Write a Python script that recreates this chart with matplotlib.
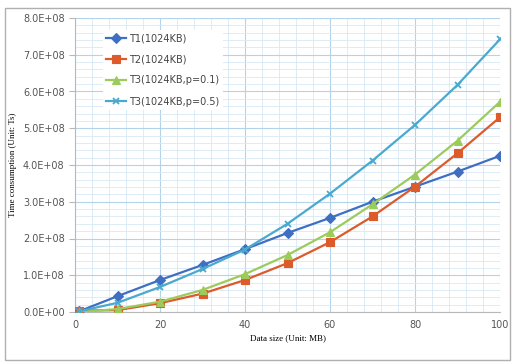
import matplotlib
matplotlib.use("Agg")
import matplotlib.pyplot as plt
from matplotlib.patches import Rectangle
from matplotlib.ticker import MultipleLocator, FuncFormatter

x = [1, 10, 20, 30, 40, 50, 60, 70, 80, 90, 100]
t1 = [0.02, 0.43, 0.87, 1.28, 1.71, 2.15, 2.56, 3.00, 3.41, 3.82, 4.25]
t2 = [0.04, 0.05, 0.24, 0.50, 0.87, 1.33, 1.90, 2.60, 3.41, 4.32, 5.30]
t3a = [0.00, 0.08, 0.28, 0.60, 1.03, 1.55, 2.17, 2.93, 3.74, 4.66, 5.72]
t3b = [0.02, 0.25, 0.68, 1.17, 1.70, 2.40, 3.22, 4.12, 5.09, 6.18, 7.42]
labels = ["T1(1024KB)", "T2(1024KB)", "T3(1024KB,p=0.1)", "T3(1024KB,p=0.5)"]
colors = ["#3e6fc2", "#dd5a2b", "#9ccb5c", "#4aa9cf"]
markers = ["D", "s", "^", "x"]
msizes = [5, 6, 6, 5]

fig = plt.figure(figsize=(5.15, 3.62), dpi=100)
fig.patches.append(Rectangle((5/515, 2/362), 505/515, 352/362, transform=fig.transFigure,
                             fill=False, edgecolor="#b0b0b0", lw=1.0))
ax = fig.add_axes([75/515, 1-312/362, 425/515, 294/362])

for s, lab, c, m, ms in zip([t1, t2, t3a, t3b], labels, colors, markers, msizes):
    ax.plot(x, [v*1e8 for v in s], color=c, marker=m, markersize=ms, lw=1.6,
            label=lab, markeredgewidth=1.3 if m == "x" else 0.8, zorder=3)

ax.set_xlim(0, 100)
ax.set_ylim(0, 8e8)
ax.xaxis.set_major_locator(MultipleLocator(20))
ax.xaxis.set_minor_locator(MultipleLocator(4))
ax.yaxis.set_major_locator(MultipleLocator(1e8))
ax.yaxis.set_minor_locator(MultipleLocator(0.2e8))
ax.yaxis.set_major_formatter(FuncFormatter(lambda v, p: "%.1fE+%02d" % (v/1e8, 8) if v > 0 else "0.0E+00"))
ax.grid(True, which="major", color="#b3d3ea", lw=0.8)
ax.grid(True, which="minor", color="#d8e9f5", lw=0.6)
ax.set_axisbelow(True)
for sp in ["top", "right"]:
    ax.spines[sp].set_visible(False)
for sp in ["left", "bottom"]:
    ax.spines[sp].set_color("#b8b8b8")
ax.tick_params(axis="both", which="both", labelsize=7, labelcolor="#555555", color="#b8b8b8")
ax.tick_params(axis="x", which="both", length=0, pad=6)
ax.tick_params(axis="y", which="major", length=4)
ax.tick_params(axis="y", which="minor", length=0)
ax.set_xlabel("Data size (Unit: MB)", fontsize=6.5, family="Liberation Serif", labelpad=3)
ax.set_ylabel("Time consumption (Unit: Ts)", fontsize=6.5, family="Liberation Serif", labelpad=4)

leg = ax.legend(loc="upper left", bbox_to_anchor=(0.055, 0.975), frameon=True, fontsize=7,
                labelspacing=1.15, handlelength=2.0, handletextpad=0.4, borderpad=0.3)
leg.get_frame().set_facecolor("white")
leg.get_frame().set_edgecolor("none")
leg.get_frame().set_alpha(1)
for t in leg.get_texts():
    t.set_color("#444444")

fig.savefig("out.png", dpi=100)
